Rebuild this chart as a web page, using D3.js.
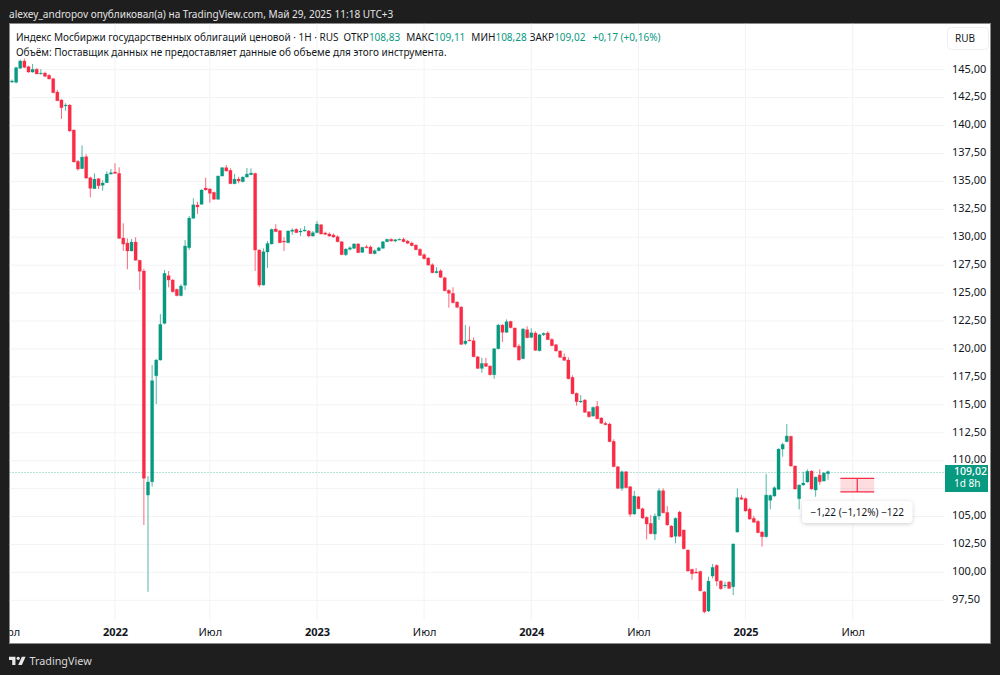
<!DOCTYPE html>
<html>
<head>
<meta charset="utf-8">
<script src="https://cdn.jsdelivr.net/npm/d3@7"></script>
<style>
  html, body { margin: 0; padding: 0; background: #1e1e1e; }
  svg { display: block; }
  text { font-family: "Noto Sans", sans-serif; }
</style>
</head>
<body>
<div id="chart"></div>
<script>
// weekly candles (index 0 = first visible week, Jul 2021)
const opens = [
  143.90,143.87,145.13,145.78,145.27,144.79,145.04,144.64,144.70,144.50,
  144.19,143.00,142.29,141.76,141.84,139.60,136.80,136.14,137.21,135.33,
  134.35,135.24,134.65,134.88,135.66,135.84,135.72,129.93,129.48,128.77,
  129.57,127.94,126.98,106.92,108.11,117.60,119.01,122.29,126.56,126.17,
  125.34,124.77,125.70,129.06,131.70,132.89,132.95,134.41,134.32,134.02,
  133.40,135.48,136.23,135.99,134.79,135.21,134.97,135.39,135.60,135.72,
  128.86,125.72,128.68,129.40,130.74,130.59,129.66,129.51,130.53,130.71,
  130.47,130.56,130.56,130.11,130.41,131.12,130.38,130.29,130.20,130.05,
  129.60,128.44,128.92,129.01,129.40,128.65,129.15,129.13,128.53,128.80,
  129.01,129.60,129.82,129.66,129.78,129.82,129.66,129.48,129.30,128.92,
  128.44,128.14,127.54,126.82,127.00,126.38,125.25,124.98,124.20,123.75,
  120.47,120.80,120.74,119.30,118.26,118.71,118.47,117.69,120.02,122.14,
  121.49,122.47,121.87,120.26,119.13,121.72,121.04,121.43,119.84,121.27,
  121.43,120.86,120.38,119.82,119.28,119.01,117.46,116.03,115.25,115.43,
  114.38,113.99,114.86,113.82,113.34,113.28,111.73,109.46,107.52,109.01,
  107.67,105.22,106.77,105.70,104.93,104.39,103.43,105.04,107.31,105.37,
  104.15,103.23,105.40,103.79,102.00,100.27,100.03,100.09,98.26,96.54,
  99.67,100.63,99.22,98.78,99.13,98.71,103.61,106.68,106.61,105.67,
  104.84,104.57,103.61,103.19,106.45,106.83,107.43,111.04,111.70,112.18,
  109.52,106.59,107.82,108.09,109.07,107.37,108.71,108.18,108.83
];
const highs = [
  144.12,145.27,145.91,146.00,145.36,145.51,145.15,145.04,144.82,144.61,
  144.26,143.18,142.35,141.99,141.90,139.65,136.92,138.23,137.43,135.42,
  135.72,135.30,135.12,135.90,136.11,136.62,136.26,131.25,129.90,129.84,
  130.00,127.97,127.18,108.62,118.56,119.10,123.13,127.07,126.98,126.26,
  125.40,125.81,129.75,131.90,133.49,133.18,134.30,135.33,134.40,134.08,
  135.53,136.28,136.47,136.17,135.66,135.42,135.45,136.20,136.17,135.78,
  128.92,129.01,129.66,130.77,131.16,130.65,130.00,130.62,130.80,130.80,
  130.80,131.01,130.65,130.56,131.45,131.18,130.50,130.44,130.35,130.17,
  129.66,129.00,129.19,129.48,129.48,129.15,129.31,129.28,128.92,129.15,
  129.66,129.87,129.90,129.84,129.90,129.96,129.75,129.60,129.37,129.01,
  128.56,128.23,127.67,127.31,127.13,126.47,125.34,125.52,124.26,123.84,
  122.14,122.03,121.04,119.36,119.21,119.21,118.53,120.08,122.26,122.23,
  122.65,122.53,121.93,120.44,121.87,122.03,121.85,121.58,121.33,121.49,
  121.58,120.95,120.44,119.88,119.61,119.25,117.64,116.10,115.88,115.52,
  114.44,114.85,115.34,113.90,113.49,113.40,111.91,109.52,109.13,109.07,
  107.73,107.31,106.83,105.79,105.02,105.13,105.28,107.52,107.52,105.94,
  104.24,104.93,105.52,103.85,102.06,100.33,100.39,100.15,98.32,99.61,
  100.75,100.72,99.31,99.16,99.22,102.60,107.52,106.92,106.70,105.79,
  105.07,104.68,103.70,108.80,106.97,107.70,111.10,111.60,113.28,112.24,
  109.58,107.88,109.01,109.22,109.13,108.58,109.22,108.98,109.11
];
const lows = [
  143.81,143.78,145.06,145.13,144.73,144.73,144.61,144.55,144.32,144.12,
  142.89,142.20,140.59,141.33,139.45,136.70,135.96,136.11,135.21,133.58,
  134.32,134.32,134.17,134.86,135.60,135.70,129.85,128.77,127.13,128.74,
  127.90,125.28,104.24,98.26,107.67,115.07,118.95,122.20,125.52,125.06,
  124.71,124.71,125.28,128.86,131.65,132.08,132.90,134.20,133.09,133.35,
  133.35,135.45,135.88,134.75,134.75,134.83,134.92,135.34,135.55,126.98,
  125.52,125.67,127.25,129.35,130.45,129.46,128.77,129.46,130.23,130.38,
  130.11,130.50,130.00,130.05,130.35,130.25,130.20,130.02,129.96,129.55,
  128.40,128.32,128.80,128.95,128.59,128.60,129.01,128.50,128.47,128.74,
  128.99,129.55,129.60,129.57,129.73,129.55,129.39,129.21,128.86,128.32,
  128.02,127.45,126.77,126.77,126.35,125.16,123.69,124.08,123.66,120.35,
  120.35,120.68,119.25,118.20,117.87,118.38,117.63,117.33,119.96,120.62,
  121.43,121.85,120.11,118.95,119.08,120.95,120.95,119.82,119.78,121.16,
  120.80,120.24,119.76,119.20,118.93,117.28,115.94,114.92,115.16,114.28,
  113.84,113.93,113.70,113.30,113.17,111.65,109.41,107.47,107.31,107.52,
  104.98,105.16,105.65,104.80,102.96,103.41,102.89,104.68,105.28,104.19,
  103.11,102.60,103.18,102.06,100.06,99.34,99.88,98.29,96.33,96.45,
  99.46,98.78,98.44,98.57,98.51,97.97,103.55,106.50,105.44,104.72,
  104.44,103.50,102.30,103.13,105.64,106.78,107.40,110.35,111.65,109.47,
  107.40,105.64,107.76,108.03,107.40,106.77,107.84,108.12,108.28
];
const closes = [
  143.99,145.18,145.78,145.21,144.79,145.04,144.61,144.70,144.41,144.17,
  142.94,142.22,141.60,141.84,139.51,136.74,136.11,137.18,135.30,134.38,
  135.21,134.61,134.86,135.66,135.78,135.72,129.90,129.39,128.77,129.57,
  127.94,126.95,108.42,108.09,117.16,119.01,122.20,126.77,126.17,125.12,
  124.77,125.63,129.22,131.72,132.91,132.71,134.23,134.23,133.93,133.40,
  135.48,136.23,135.93,134.79,135.21,135.03,135.39,135.66,135.75,128.86,
  125.72,128.71,129.44,130.71,130.50,129.51,129.57,130.56,130.65,130.41,
  130.56,130.65,130.11,130.41,131.18,130.29,130.26,130.11,130.02,129.60,
  128.44,128.95,129.06,129.40,128.62,129.10,129.06,128.53,128.80,129.06,
  129.60,129.82,129.66,129.78,129.82,129.60,129.46,129.24,128.88,128.38,
  128.08,127.51,126.82,126.95,126.41,125.21,124.98,124.14,123.73,120.41,
  120.71,120.74,119.30,118.26,118.71,118.44,117.69,120.02,122.14,121.49,
  122.44,121.90,120.17,119.01,121.78,121.00,121.45,119.88,121.27,121.40,
  120.83,120.29,119.82,119.25,118.98,117.33,115.99,115.28,115.34,114.33,
  113.93,114.77,113.75,113.34,113.22,111.70,109.46,107.52,109.01,107.58,
  105.20,106.83,105.70,104.86,104.33,103.46,105.04,107.31,105.33,104.24,
  103.16,104.84,103.23,102.11,100.12,99.88,99.94,98.35,96.47,99.22,
  100.45,99.22,98.53,98.87,98.57,102.54,106.70,106.54,105.49,104.77,
  104.48,103.55,103.19,106.92,106.89,107.58,111.04,111.46,112.21,109.52,
  107.46,107.82,108.00,109.05,107.46,108.53,108.11,108.89,109.02
];

const priceTicks = [145, 142.5, 140, 137.5, 135, 132.5, 130, 127.5, 125, 122.5, 120, 117.5,
  115, 112.5, 110, 107.5, 105, 102.5, 100, 97.5];
// 107,50 sits under the last price label, so it gets a grid line but no text
const priceLabels = priceTicks.filter(d => d !== 107.5);
const timeTicks = [-1, 25, 48, 74, 100, 126, 152, 178, 204];
const timeLabels = ["Июл", "2022", "Июл", "2023", "Июл", "2024", "Июл", "2025", "Июл"];

const lastPrice = 109.02;
const measureFrom = 108.42;
const measureTo = 107.20;
const measureStart = 201;
const measureEnd = 209.2;

const headerText = "alexey_andropov опубликовал(а) на TradingView.com, Май 29, 2025 11:18 UTC+3";
const legendTitle = "Индекс Мосбиржи государственных облигаций ценовой · 1Н · RUS";
const legendOhlc = [["ОТКР", "108,83"], ["МАКС", "109,11"], ["МИН", "108,28"], ["ЗАКР", "109,02"]];
const legendChange = "+0,17 (+0,16%)";
const volumeText = "Объём: Поставщик данных не предоставляет данные об объеме для этого инструмента.";

const width = 1000;
const height = 675;
const panel = { left: 9.5, top: 23.5, right: 990.5, bottom: 643.5 };
const plotRight = 944;
const plotBottom = 620;
const green = "#089981";
const red = "#f92b45";

const svg = d3.select("#chart").append("svg")
    .attr("width", width)
    .attr("height", height);

const x = d3.scaleLinear().domain([0, 198]).range([12, 828]);
const y = d3.scaleLinear().domain([145, 97.5]).range([69.7, 600.3]);

const ruFormat = d3.formatLocale({ decimal: ",", thousands: " ", grouping: [3], currency: ["", ""] }).format(".2f");

svg.append("rect").attr("width", width).attr("height", height).attr("fill", "#1e1e1e");
svg.append("rect")
    .attr("x", panel.left).attr("y", panel.top)
    .attr("width", panel.right - panel.left).attr("height", panel.bottom - panel.top)
    .attr("fill", "#fff").attr("stroke", "#8a8a8a").attr("stroke-width", 1);

const defs = svg.append("defs");
defs.append("clipPath").attr("id", "panel-clip").append("rect")
    .attr("x", panel.left).attr("y", panel.top)
    .attr("width", panel.right - panel.left).attr("height", panel.bottom - panel.top);
defs.append("filter").attr("id", "soft").attr("x", "-20%").attr("y", "-40%").attr("width", "140%").attr("height", "180%")
    .append("feDropShadow")
    .attr("dx", 0).attr("dy", 1).attr("stdDeviation", 2).attr("flood-color", "#000").attr("flood-opacity", 0.2);

const root = svg.append("g").attr("clip-path", "url(#panel-clip)");

// grid
root.append("g").selectAll("line").data(priceTicks).join("line")
    .attr("x1", panel.left).attr("x2", plotRight)
    .attr("y1", d => y(d)).attr("y2", d => y(d))
    .attr("stroke", "#f2f3f5");
root.append("g").selectAll("line").data(timeTicks).join("line")
    .attr("x1", d => x(d)).attr("x2", d => x(d))
    .attr("y1", panel.top).attr("y2", plotBottom)
    .attr("stroke", "#f2f3f5");

// last price line
root.append("line")
    .attr("x1", panel.left).attr("x2", plotRight)
    .attr("y1", Math.round(y(lastPrice)) + 0.5).attr("y2", Math.round(y(lastPrice)) + 0.5)
    .attr("stroke", green).attr("stroke-opacity", 0.6)
    .attr("stroke-dasharray", "1 2");

// candles
const candles = root.append("g").selectAll("g")
    .data(d3.range(opens.length))
    .join("g")
    .attr("fill", i => closes[i] >= opens[i] ? green : red)
    .attr("stroke", i => closes[i] >= opens[i] ? green : red);

candles.append("line")
    .attr("x1", i => x(i)).attr("x2", i => x(i))
    .attr("y1", i => y(highs[i])).attr("y2", i => y(lows[i]))
    .attr("stroke-width", 1)
    .attr("stroke-opacity", 0.7);

candles.append("rect")
    .attr("x", i => x(i) - 1.6)
    .attr("width", 3.2)
    .attr("y", i => y(Math.max(opens[i], closes[i])))
    .attr("height", i => Math.max(0.8, Math.abs(y(opens[i]) - y(closes[i]))))
    .attr("stroke-width", 0.8)
    .attr("stroke-opacity", 0.25);

// measure tool
const measure = root.append("g");
measure.append("rect")
    .attr("x", x(measureStart)).attr("width", x(measureEnd) - x(measureStart))
    .attr("y", y(measureFrom)).attr("height", y(measureTo) - y(measureFrom))
    .attr("fill", red).attr("fill-opacity", 0.16);
[measureFrom, measureTo].forEach(p => {
    measure.append("line")
        .attr("x1", x(measureStart)).attr("x2", x(measureEnd))
        .attr("y1", y(p)).attr("y2", y(p))
        .attr("stroke", red).attr("stroke-width", 1.2);
});
measure.append("line")
    .attr("x1", x((measureStart + measureEnd) / 2)).attr("x2", x((measureStart + measureEnd) / 2))
    .attr("y1", y(measureFrom)).attr("y2", y(measureTo))
    .attr("stroke", red).attr("stroke-width", 1.2);

const tipX = x((measureStart + measureEnd) / 2);
root.append("rect")
    .attr("x", tipX - 55).attr("y", 501).attr("width", 110).attr("height", 22).attr("rx", 4)
    .attr("fill", "#fff").attr("filter", "url(#soft)");
root.append("text")
    .attr("x", tipX).attr("y", 515.5).attr("text-anchor", "middle")
    .attr("font-size", 10).attr("fill", "#131722")
    .text("−1,22 (−1,12%) −122");

// price axis
const yAxis = root.append("g")
    .attr("transform", `translate(${plotRight + 8},0)`)
    .call(d3.axisRight(y).tickValues(priceLabels).tickFormat(ruFormat).tickSize(0).tickPadding(0));
yAxis.select(".domain").remove();
yAxis.selectAll("text")
    .attr("dy", "0.32em")
    .attr("y", -1.2)
    .attr("fill", "#131722")
    .attr("font-size", 11)
    .attr("font-family", '"Noto Sans", sans-serif');

// time axis
const xAxis = root.append("g")
    .attr("transform", `translate(0,${plotBottom})`)
    .call(d3.axisBottom(x).tickValues(timeTicks).tickFormat((d, i) => timeLabels[i]).tickSize(0).tickPadding(8));
xAxis.select(".domain").remove();
xAxis.selectAll("text")
    .attr("fill", "#131722")
    .attr("font-size", 11)
    .attr("font-family", '"Noto Sans", sans-serif')
    .attr("font-weight", (d, i) => timeLabels[i] === "Июл" ? 400 : 700);

// last price label
root.append("rect")
    .attr("x", plotRight + 1).attr("y", y(lastPrice) - 6.6).attr("width", 43).attr("height", 27)
    .attr("fill", green);
root.append("text")
    .attr("x", plotRight + 10).attr("y", y(lastPrice) + 3.8)
    .attr("font-size", 10.5).attr("font-weight", 500).attr("fill", "#fff").text(ruFormat(lastPrice));
root.append("text")
    .attr("x", plotRight + 10).attr("y", y(lastPrice) + 15.6)
    .attr("font-size", 10).attr("fill", "#fff").text("1d 8h");

// currency button
root.append("rect")
    .attr("x", 947.5).attr("y", 27.5).attr("width", 41).attr("height", 22).attr("rx", 4)
    .attr("fill", "#fff").attr("stroke", "#eceef2");
root.append("text")
    .attr("x", 965).attr("y", 42).attr("text-anchor", "middle")
    .attr("font-size", 10).attr("fill", "#131722").text("RUB");

// legend
const legendGaps = [5, 6, 6, 3];
const legend = root.append("text")
    .attr("x", 16).attr("y", 40.5)
    .attr("font-size", 10).attr("fill", "#131722");
legend.append("tspan").text(legendTitle);
legendOhlc.forEach((d, i) => {
    legend.append("tspan").attr("dx", legendGaps[i]).text(d[0]);
    legend.append("tspan").attr("fill", green).text(d[1]);
});
legend.append("tspan").attr("dx", 7).attr("fill", green).text(legendChange);

root.append("text")
    .attr("x", 16).attr("y", 55.5)
    .attr("font-size", 10).attr("fill", "#131722")
    .text(volumeText);

// header
svg.append("text")
    .attr("x", 9).attr("y", 18)
    .attr("font-size", 10.05).attr("fill", "#e4e4e4")
    .text(headerText);

// footer logo
const logo = svg.append("g")
    .attr("transform", "translate(9,654) scale(0.46)")
    .attr("fill", "#e8e8e8");
logo.append("path").attr("d", "M14 6H0v7h7v11h7V6Z");
logo.append("path").attr("d", "M28 24h-8L28 6h8l-8 18Z");
logo.append("circle").attr("cx", 20).attr("cy", 9.5).attr("r", 3.5);
svg.append("text")
    .attr("x", 29.5).attr("y", 664.5)
    .attr("font-size", 10.8).attr("fill", "#d8d8d8")
    .text("TradingView");
</script>
</body>
</html>
